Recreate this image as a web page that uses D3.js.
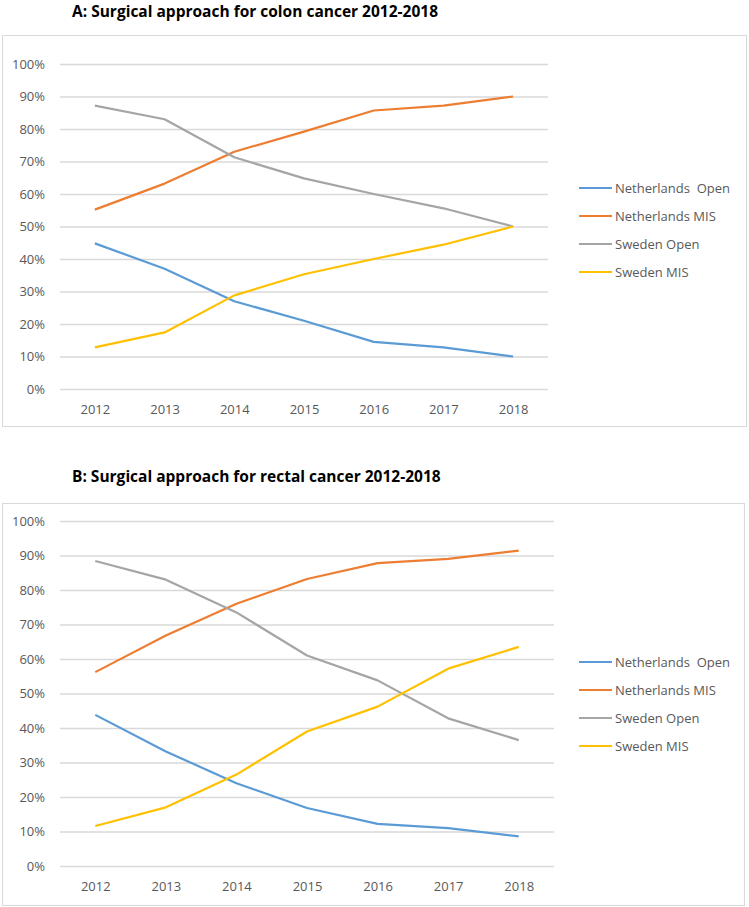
<!DOCTYPE html>
<html><head><meta charset="utf-8">
<script src="https://cdn.jsdelivr.net/npm/d3@7"></script>
<style>body{margin:0;background:#fff}svg{display:block}</style>
</head><body>
<script>
const years = ["2012","2013","2014","2015","2016","2017","2018"];
const seriesNames = ["Netherlands  Open","Netherlands MIS","Sweden Open","Sweden MIS"];
const colors = ["#5B9BD5","#ED7D31","#A5A5A5","#FFC000"];
const yTicks = [0,10,20,30,40,50,60,70,80,90,100];

const colonNLOpen = [44.8,37,27,21,14.5,12.8,10];
const colonNLMIS = [55.2,63.2,73,79.2,85.7,87.2,90];
const colonSEOpen = [87.2,83,71.3,64.8,60,55.6,50];
const colonSEMIS = [12.8,17.4,28.8,35.3,40,44.4,50];

const rectalNLOpen = [43.8,33.2,24,16.8,12.2,11,8.6];
const rectalNLMIS = [56.2,66.8,76,83.2,87.8,89,91.4];
const rectalSEOpen = [88.4,83,73.5,61,53.8,42.8,36.5];
const rectalSEMIS = [11.6,17,26.5,39,46.2,57.2,63.5];

const svg = d3.select("body").append("svg").attr("width",749).attr("height",907);
const font = "'Open Sans', 'Liberation Sans', sans-serif";

function panel(cfg){
  const g = svg.append("g");
  g.append("text").attr("x",cfg.titleX).attr("y",cfg.titleY)
    .attr("font-family",font).attr("font-weight","bold").attr("font-size",15.5)
    .attr("fill","#000").text(cfg.title);
  g.append("rect").attr("x",cfg.box[0]+0.5).attr("y",cfg.box[1]+0.5)
    .attr("width",cfg.box[2]).attr("height",cfg.box[3])
    .attr("fill","none").attr("stroke","#D9D9D9").attr("stroke-width",1);
  const x = d3.scalePoint().domain(years).range([cfg.x0,cfg.x1]).padding(0.5);
  const y = d3.scaleLinear().domain([0,100]).range([cfg.y0,cfg.y100]);
  const grid = d3.axisLeft(y).tickValues(yTicks).tickSize(-(cfg.x1-cfg.x0)).tickFormat(d=>d+"%");
  const ga = g.append("g").attr("transform",`translate(${cfg.x0},0)`).call(grid);
  ga.select(".domain").remove();
  ga.selectAll("line").attr("stroke","#D9D9D9").attr("stroke-width",1.3);
  ga.selectAll("text").attr("x",-15).attr("font-family",font).attr("font-size",13).attr("fill","#595959");
  const xa = d3.axisBottom(x).tickSize(0);
  const gx = g.append("g").attr("transform",`translate(0,${cfg.y0})`).call(xa);
  gx.select(".domain").remove();
  gx.selectAll("text").attr("dy",0).attr("y",cfg.xLabelY-cfg.y0+5).attr("font-family",font).attr("font-size",13).attr("fill","#595959");
  const line = d3.line().x((d,i)=>x(years[i])).y(d=>y(d));
  cfg.data.forEach((s,i)=>{
    g.append("path").datum(s).attr("d",line).attr("fill","none")
      .attr("stroke",colors[i]).attr("stroke-width",2.2).attr("stroke-linejoin","round");
  });
  seriesNames.forEach((n,i)=>{
    const ly = cfg.legY + i*28;
    g.append("line").attr("x1",579).attr("x2",612).attr("y1",ly).attr("y2",ly)
      .attr("stroke",colors[i]).attr("stroke-width",2.2);
    g.append("text").attr("x",615).attr("y",ly+4.5).attr("font-family",font)
      .attr("font-size",13).attr("fill","#595959").attr("xml:space","preserve")
      .style("white-space","pre").text(n);
  });
}

panel({title:"A: Surgical approach for colon cancer 2012-2018", titleX:72, titleY:17,
  box:[2,35,744,391], x0:60, x1:548, y0:389, y100:64, xLabelY:409, legY:188,
  data:[colonNLOpen,colonNLMIS,colonSEOpen,colonSEMIS]});
panel({title:"B: Surgical approach for rectal cancer 2012-2018", titleX:72, titleY:482,
  box:[2,503,742,402], x0:60, x1:554, y0:866, y100:521, xLabelY:886, legY:662,
  data:[rectalNLOpen,rectalNLMIS,rectalSEOpen,rectalSEMIS]});
</script>
</body></html>
